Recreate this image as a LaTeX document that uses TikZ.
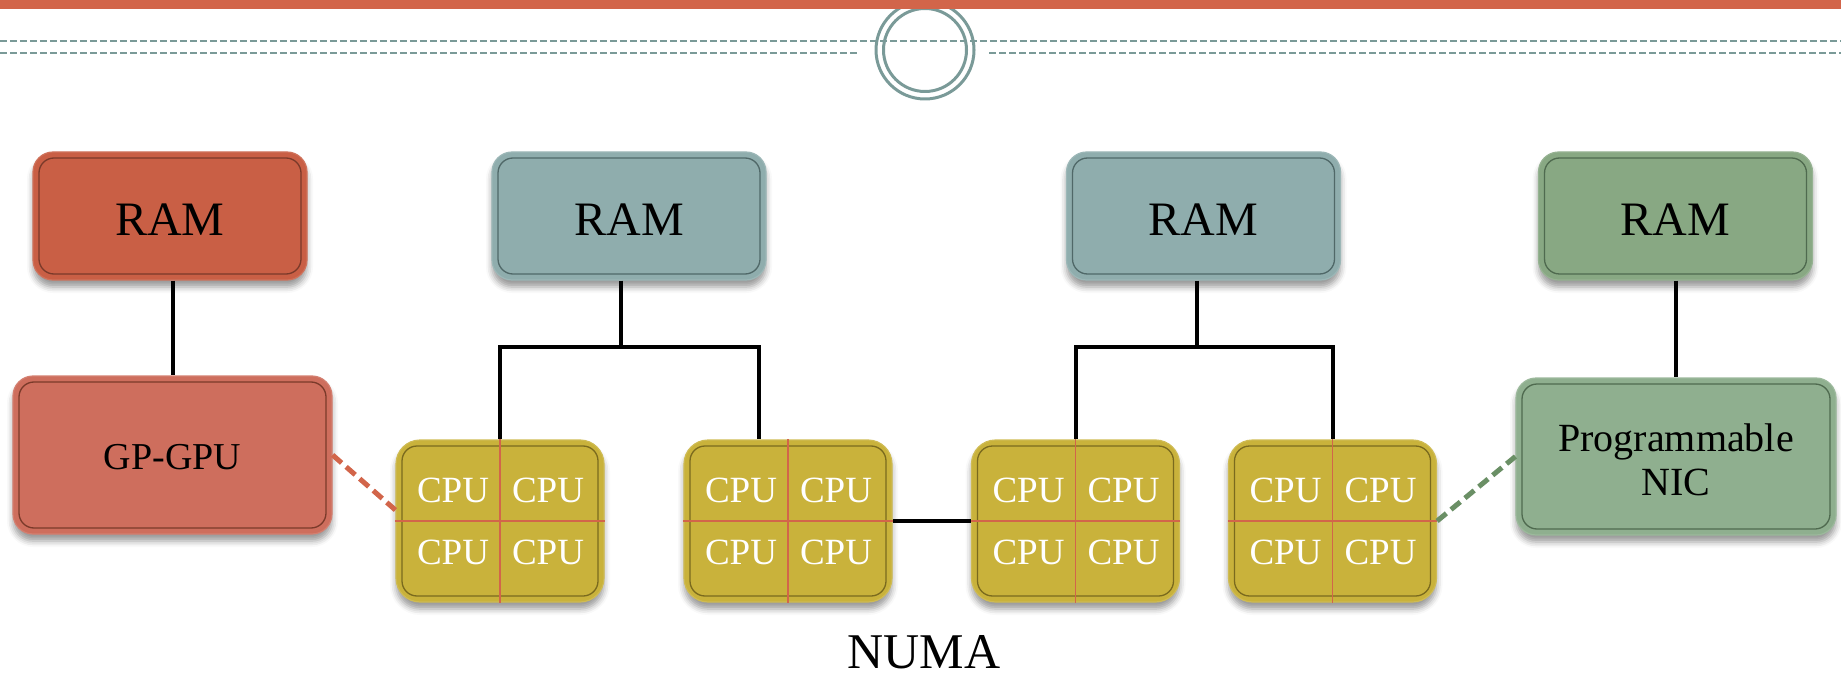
\documentclass[tikz,border=0pt]{standalone}
\usepackage{fontspec}
\setmainfont{Liberation Serif}
\usetikzlibrary{shadows.blur,calc}
\definecolor{barorange}{HTML}{D2654A}
\definecolor{tealline}{HTML}{7A9A98}
\definecolor{ramred}{HTML}{C95F45}
\definecolor{gpured}{HTML}{CE6E5D}
\definecolor{redin}{HTML}{7A3A2A}
\definecolor{ramteal}{HTML}{8FADAD}
\definecolor{tealin}{HTML}{506868}
\definecolor{ramgreen}{HTML}{88A883}
\definecolor{nicgreen}{HTML}{8FAF8F}
\definecolor{greenin}{HTML}{4F6A4F}
\definecolor{cpufill}{HTML}{C9B23B}
\definecolor{cpuin}{HTML}{7A6A1E}
\definecolor{dashred}{HTML}{D2654A}
\definecolor{dashgreen}{HTML}{6A8F65}
\tikzset{
  innerline/.style={path picture={\draw[line width=1.3pt, draw=#1, rounded corners=15pt]
     ([shift={(6pt,-6pt)}]path picture bounding box.north west) rectangle
     ([shift={(-6pt,6pt)}]path picture bounding box.south east);}},
  basebox/.style={rounded corners=20pt, line width=1.2pt, inner sep=0pt, text=black,
     blur shadow={shadow xshift=0pt, shadow yshift=-7pt, shadow blur radius=6pt, shadow opacity=40}},
  rambox/.style 2 args={basebox, fill=#1, draw=#1!88!white, innerline=#2,
     minimum width=274pt, minimum height=128pt, font=\fontsize{48}{52}\selectfont, text height=40pt},
  devbox/.style 2 args={basebox, fill=#1, draw=#1!88!white, innerline=#2,
     minimum width=319pt, minimum height=158pt, align=center},
  cpubox/.style={basebox, rounded corners=24pt, fill=cpufill, draw=cpufill!88!white, innerline=cpuin,
     minimum width=208pt, minimum height=162pt},
  cputext/.style={text=white, inner sep=0pt, font=\fontsize{37}{40}\selectfont},
  divider/.style={draw=barorange, line width=1.5pt},
  link/.style={draw=black, line width=4pt},
  dashlink/.style={line width=5pt, dash pattern=on 12pt off 6pt},
  deco/.style={draw=tealline, line width=3pt},
}
\begin{document}
\begin{tikzpicture}[x=1pt,y=-1pt]
\useasboundingbox (0,0) rectangle (1841,676);
% top decoration
\node[deco, circle, minimum size=98pt, inner sep=0pt] (ringout) at (925,50) {};
\node[deco, circle, minimum size=83pt, inner sep=0pt] (ringin) at (925,50) {};
\coordinate (d1l) at (0,41); \coordinate (d1r) at (1841,41);
\coordinate (d2l) at (0,53); \coordinate (d2a) at (859,53);
\coordinate (d2b) at (989,53); \coordinate (d2r) at (1841,53);
\draw[draw=tealline, line width=2.5pt, dash pattern=on 7pt off 3pt] (d1l) -- (d1r);
\draw[draw=tealline, line width=2.5pt, dash pattern=on 7pt off 3pt] (d2l) -- (d2a);
\draw[draw=tealline, line width=2.5pt, dash pattern=on 7pt off 3pt] (d2b) -- (d2r);
\fill[barorange] (0,0) rectangle (1841,9);

% RAM boxes
\node[rambox={ramred}{redin}] (ram1) at (170,216) {RAM};
\node[rambox={ramteal}{tealin}] (ram2) at (629,216) {RAM};
\node[rambox={ramteal}{tealin}] (ram3) at (1203.5,216) {RAM};
\node[rambox={ramgreen}{greenin}] (ram4) at (1675.5,216) {RAM};

% devices
\node[devbox={gpured}{redin}, font=\fontsize{38}{42}\selectfont, text height=30pt] (gpu) at (172.5,455) {GP-GPU};
\node[devbox={nicgreen}{greenin}, minimum width=320pt, minimum height=157pt,
      font=\fontsize{40}{44}\selectfont, text height=79pt] (nic) at (1676,456.5) {Programmable\\NIC};

% CPU boxes
\foreach \n/\x in {c1/500,c2/788,c3/1075.5,c4/1332.5}{
  \node[cpubox] (\n) at (\x,521) {};
  \draw[divider] (\n.north) -- (\n.south);
  \draw[divider] (\n.west) -- (\n.east);
  \node[cputext] (\n tl) at ($(\n.center)+(-47,-31)$) {CPU};
  \node[cputext] (\n tr) at ($(\n.center)+(48,-31)$) {CPU};
  \node[cputext] (\n bl) at ($(\n.center)+(-47,31)$) {CPU};
  \node[cputext] (\n br) at ($(\n.center)+(48,31)$) {CPU};
}

% connectors
\draw[link] (ram1.south -| gpu.north) -- (gpu.north);
\draw[link] (ram4.south -| nic.north) -- (nic.north);
\coordinate (j2) at (621,347);
\coordinate (j2r) at (759,347);
\draw[link] (j2 |- ram2.south) -- (j2);
\draw[link] (c1.north) |- (j2r) -- (j2r |- c2.north);
\coordinate (j3) at (1197,347);
\draw[link] (j3 |- ram3.south) -- (j3);
\draw[link] (c3.north) |- (c4.north |- j3) -- (c4.north);
\draw[link] (c2.east) -- (c3.west);
\draw[dashlink, draw=dashred] (gpu.east) -- ([yshift=11pt]c1.west);
\draw[dashlink, draw=dashgreen] (c4.east) -- (nic.west);

% caption
\node[inner sep=0pt, font=\fontsize{50}{54}\selectfont] (numa) at (924,652) {NUMA};
\end{tikzpicture}
\end{document}
